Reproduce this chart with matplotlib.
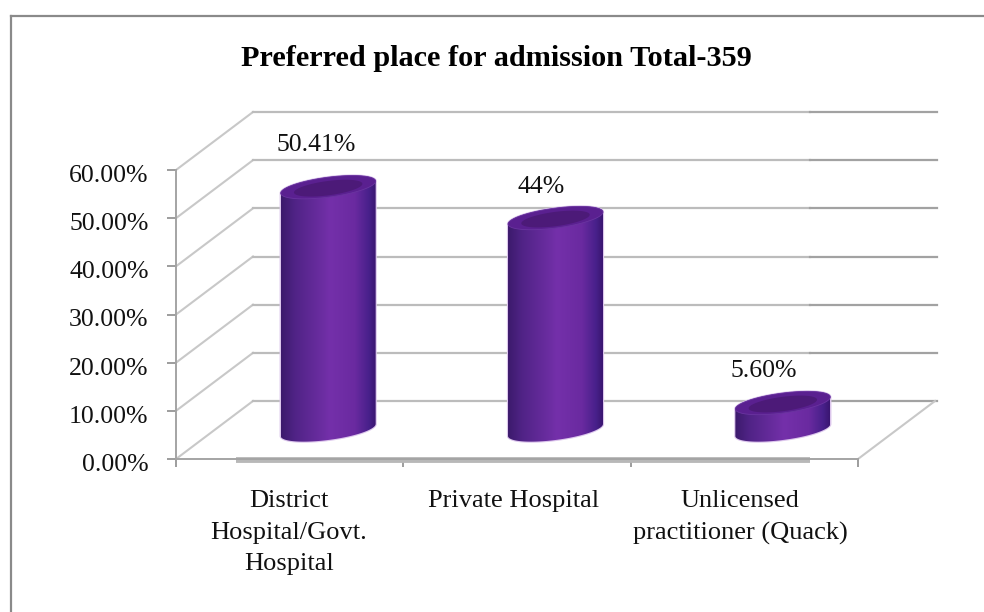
import matplotlib
matplotlib.use('Agg')
import matplotlib.pyplot as plt
import numpy as np
from matplotlib.colors import LinearSegmentedColormap
from matplotlib.lines import Line2D
from matplotlib.patches import Polygon
from matplotlib.transforms import ScaledTranslation

plt.rcParams['font.family'] = ['Liberation Serif', 'DejaVu Serif']

title = "Preferred place for admission Total-359"
categories = ["District\nHospital/Govt.\nHospital", "Private Hospital",
              "Unlicensed\npractitioner (Quack)"]
values = [50.41, 44.0, 5.60]
value_labels = ["50.41%", "44%", "5.60%"]
y_ticks = [0, 10, 20, 30, 40, 50, 60]

W, H = 984, 612
fig = plt.figure(figsize=(W / 100, H / 100), dpi=100, facecolor='white')
ax = fig.add_axes([176 / W, 1 - 459 / H, (858 - 176) / W, (459 - 170) / H])
ax.set_xlim(0, 3)
ax.set_ylim(0, 60)

# size of one pixel in data units, the fake 3d is worked out from these
px = 3 / (858 - 176)
py = 60 / (459 - 170)
depth_x = 77 * px
depth_y = 58 * py
split = (810 - 176) * px   # the reference has a lighter middle part

for v in y_ticks:
    ax.plot([0, depth_x], [v, v + depth_y], color='#c8c8c8', lw=1.5, clip_on=False, zorder=1)
    ax.plot([depth_x, split], [v + depth_y, v + depth_y], color='#bcbcbc', lw=1.6, clip_on=False, zorder=1)
    ax.plot([split, 3 + depth_x + 2 * px], [v + depth_y, v + depth_y], color='#a2a2a2', lw=1.6, clip_on=False, zorder=1)
ax.plot([3, 3 + depth_x], [0, depth_y], color='#c8c8c8', lw=1.5, clip_on=False, zorder=1)

# floor line
ax.plot([60 * px, split], [-1 * py, -1 * py], color='#b8b8b8', lw=4.2, clip_on=False,
        zorder=2, solid_capstyle='butt')

for s in ['top', 'right']:
    ax.spines[s].set_visible(False)
for s in ['left', 'bottom']:
    ax.spines[s].set_color('#a4a4a4')
    ax.spines[s].set_linewidth(1.4)
ax.set_yticks(y_ticks)
ax.set_yticklabels(["%.2f%%" % v for v in y_ticks], fontsize=18.5, color='#111111')
ax.set_xticks([0, 1, 2, 3])
ax.set_xticklabels([])
ax.tick_params(axis='both', color='#8c8c8c', width=1.2, length=6)
ax.tick_params(axis='y', length=6.5, pad=13.3)
ax.patch.set_visible(False)
shift = ScaledTranslation(0, -3.5 / 100, fig.dpi_scale_trans)
for lab in ax.get_yticklabels():
    lab.set_transform(lab.get_transform() + shift)

body_cmap = LinearSegmentedColormap.from_list(
    'cyl', [(0, '#3c1a6c'), (0.14, '#4f2385'), (0.52, '#7430aa'),
            (0.78, '#6a2aa0'), (0.93, '#47208a'), (1, '#3a1670')])
a = 47.5 * px
b = 10 * py
tilt = 6 * py
t = np.linspace(0, 2 * np.pi, 120)
gradient = np.linspace(0, 1, 256).reshape(1, -1)

for i, v in enumerate(values):
    cx = i + 0.5 + depth_x / 2
    y0 = depth_y / 2
    ex = np.cos(t) * a
    ey = np.sin(t) * b + np.cos(t) * tilt

    # body: upper half of top rim + lower half of bottom rim
    lower = np.sin(t) <= 0
    xs = cx + ex[lower]
    order = np.argsort(xs)
    bot_x, bot_y = xs[order], (y0 + ey[lower])[order]
    up = np.sin(t) >= 0
    xs2 = cx + ex[up]
    order2 = np.argsort(xs2)[::-1]
    top_x, top_y = xs2[order2], (y0 + v + ey[up])[order2]
    outline = np.column_stack([np.r_[bot_x, top_x], np.r_[bot_y, top_y]])

    halo = Polygon(outline, closed=True, fc='none', ec='#dcc6ec', lw=1.6, zorder=3, clip_on=False)
    ax.add_patch(halo)
    clip = Polygon(outline, closed=True, transform=ax.transData)
    im = ax.imshow(gradient, cmap=body_cmap, aspect='auto', zorder=4,
                   extent=[cx - a, cx + a, y0 - b - tilt, y0 + v + b + tilt])
    im.set_clip_path(clip)
    # top of the cylinder
    ax.fill(cx + ex, y0 + v + ey, fc='#5a2090', ec='#6a34a0', lw=0.6, zorder=5, clip_on=False)
    ax.fill(cx + ex * 0.72, y0 + v + ey * 0.72 - 0.2, fc='#4c1a78', ec='none', zorder=6, clip_on=False)

ax.set_xlim(0, 3)
ax.set_ylim(0, 60)

# value labels sit left of the cylinder tops, offsets in pixels
label_dx = [-12, -14, -19]
label_dy = [42, 31, 32]
for i, v in enumerate(values):
    ax.annotate(value_labels[i], (i + 0.5 + depth_x / 2, v + depth_y / 2),
                xytext=(label_dx[i], label_dy[i]), textcoords='offset pixels',
                ha='center', va='center', fontsize=18.5, color='#111111', annotation_clip=False)

cat_dx = [-1, -3, -4]
for i, c in enumerate(categories):
    ax.annotate(c, (i + 0.5, 0), xytext=(cat_dx[i], -31), textcoords='offset pixels',
                ha='center', va='top', fontsize=19, color='#111111', linespacing=1.57,
                annotation_clip=False)

fig.text(496 / W, 1 - 66 / H, title, ha='center', va='baseline', fontsize=21.8,
         fontweight='bold', color='black')

# frame of the pasted chart, only top and left are in the picture
fig.add_artist(Line2D([11 / W, 1], [1 - 16 / H, 1 - 16 / H], color='#8a8a8a', lw=1.6))
fig.add_artist(Line2D([11 / W, 11 / W], [0, 1 - 16 / H], color='#8a8a8a', lw=1.6))

fig.savefig('out.png', dpi=100)
